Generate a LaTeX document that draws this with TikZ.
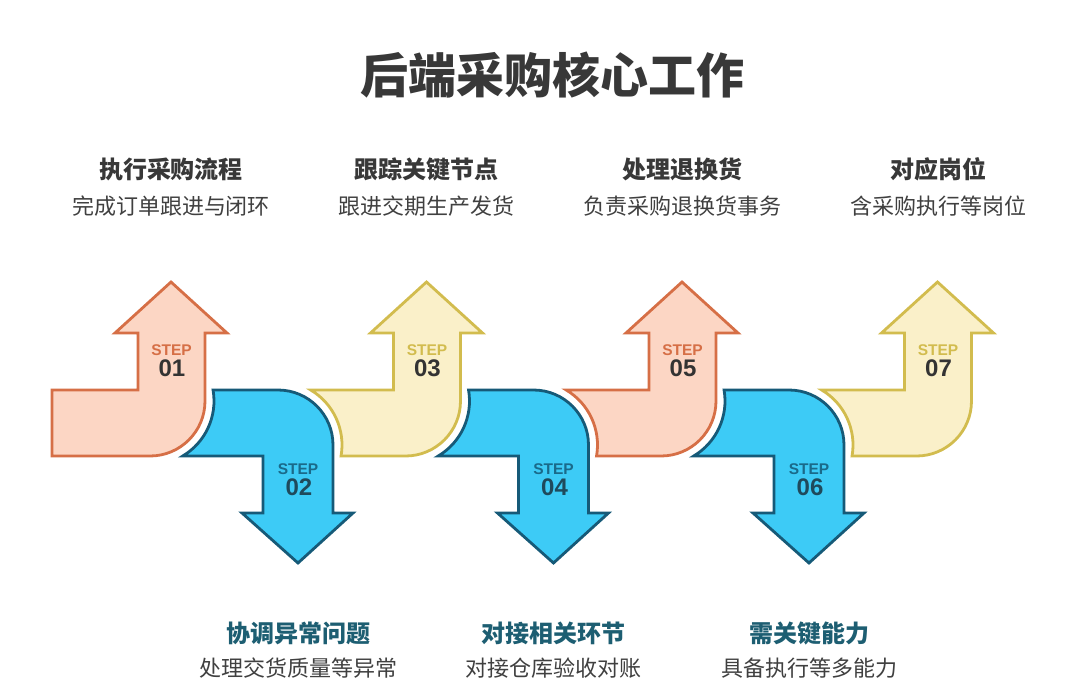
\documentclass[tikz,border=0pt]{standalone}
\usepackage{fontspec}
\setmainfont{Noto Sans CJK SC}
\newfontfamily\stepfont{Liberation Sans}
\definecolor{orfill}{HTML}{FCD6C4}
\definecolor{orline}{HTML}{D66F46}
\definecolor{blfill}{HTML}{3DCBF6}
\definecolor{blline}{HTML}{165A78}
\definecolor{yefill}{HTML}{FAF0C9}
\definecolor{yeline}{HTML}{D2BC4E}
\definecolor{titlecol}{HTML}{383838}
\definecolor{subcol}{HTML}{404040}
\definecolor{tealcol}{HTML}{1D5E72}
\definecolor{numdark}{HTML}{333333}
\definecolor{numblue}{HTML}{1F4A5C}
\definecolor{stepblue}{HTML}{1A6A8A}
\begin{document}
\begin{tikzpicture}[x=1pt,y=-1pt,
  arrowbase/.style={line width=2.8pt, line join=miter},
  orarrow/.style={arrowbase, fill=orfill, draw=orline},
  blarrow/.style={arrowbase, fill=blfill, draw=blline},
  yearrow/.style={arrowbase, fill=yefill, draw=yeline},
  steptxt/.style={inner sep=0pt, font=\stepfont\bfseries\fontsize{15.5}{16}\selectfont},
  numtxt/.style={inner sep=0pt, font=\stepfont\bfseries\fontsize{24}{25}\selectfont},
  headtxt/.style={inner sep=0pt, font=\bfseries\fontsize{24}{26}\selectfont, text=titlecol},
  subtxt/.style={inner sep=0pt, font=\fontsize{22}{24}\selectfont, text=subcol},
  bheadtxt/.style={inner sep=0pt, font=\bfseries\fontsize{24}{26}\selectfont, text=tealcol}
]
\fill[white] (0,0) rectangle (1080,681);
\useasboundingbox (0,0) rectangle (1080,681);

% title
\node[inner sep=0pt, font=\bfseries\fontsize{48}{50}\selectfont, text=titlecol] (title) at (552,75) {后端采购核心工作};

% ---- arrow 1 (up, orange)
\draw[orarrow] (52,390) -- (138,390) -- (138,333) -- (115,333) -- (171,282) -- (227,333) -- (205,333) -- (205,401)
  arc[start angle=0,end angle=90,radius=55] -- (52,456) -- cycle;

% ---- even arrows (down, blue)
\foreach \k in {0,1,2}{
  \begin{scope}[xshift=\k*255.5pt]
  \draw[blarrow] ([shift={(150,401)}]-9.9:64) -- (278,390) arc[start angle=-90,end angle=0,radius=55]
    -- (333,513) -- (353,513) -- (298,563) -- (242,513) -- (263,513) -- (263,456)
    -- ([shift={(150,401)}]59.3:64) arc[start angle=59.3,end angle=-9.9,radius=64] -- cycle;
  \end{scope}
}

% ---- odd arrows 3,5,7
\foreach \k/\sty in {1/yearrow,2/orarrow,3/yearrow}{
  \begin{scope}[xshift=\k*255.5pt]
  \draw[\sty] ([shift={(22.5,445)}]-59.3:64) -- (138,390) -- (138,333) -- (115,333) -- (171,282) -- (227,333) -- (205,333) -- (205,401)
    arc[start angle=0,end angle=90,radius=55]
    -- ([shift={(22.5,445)}]9.9:64) arc[start angle=9.9,end angle=-59.3,radius=64] -- cycle;
  \end{scope}
}

% step labels
\node[steptxt, text=orline] (s1) at (171.5,350) {STEP};
\node[numtxt, text=numdark] (n1) at (172,368) {01};
\node[steptxt, text=stepblue] (s2) at (298,469) {STEP};
\node[numtxt, text=numblue] (n2) at (299,487) {02};
\node[steptxt, text=yeline] (s3) at (427,350) {STEP};
\node[numtxt, text=numdark] (n3) at (427.5,368) {03};
\node[steptxt, text=stepblue] (s4) at (553.5,469) {STEP};
\node[numtxt, text=numblue] (n4) at (554.5,487) {04};
\node[steptxt, text=orline] (s5) at (682.5,350) {STEP};
\node[numtxt, text=numdark] (n5) at (683,368) {05};
\node[steptxt, text=stepblue] (s6) at (809,469) {STEP};
\node[numtxt, text=numblue] (n6) at (810,487) {06};
\node[steptxt, text=yeline] (s7) at (938,350) {STEP};
\node[numtxt, text=numdark] (n7) at (938.5,368) {07};

% top labels
\node[headtxt] (h1) at (171,169) {执行采购流程};
\node[subtxt] (d1) at (171,206) {完成订单跟进与闭环};
\node[headtxt] (h3) at (426,169) {跟踪关键节点};
\node[subtxt] (d3) at (426,206) {跟进交期生产发货};
\node[headtxt] (h5) at (682,169) {处理退换货};
\node[subtxt] (d5) at (682,206) {负责采购退换货事务};
\node[headtxt] (h7) at (938,169) {对应岗位};
\node[subtxt] (d7) at (938,206) {含采购执行等岗位};

% bottom labels
\node[bheadtxt] (h2) at (298.5,633) {协调异常问题};
\node[subtxt] (d2) at (298.5,668) {处理交货质量等异常};
\node[bheadtxt] (h4) at (553,633) {对接相关环节};
\node[subtxt] (d4) at (553,668) {对接仓库验收对账};
\node[bheadtxt] (h6) at (809,633) {需关键能力};
\node[subtxt] (d6) at (809,668) {具备执行等多能力};
\end{tikzpicture}
\end{document}
